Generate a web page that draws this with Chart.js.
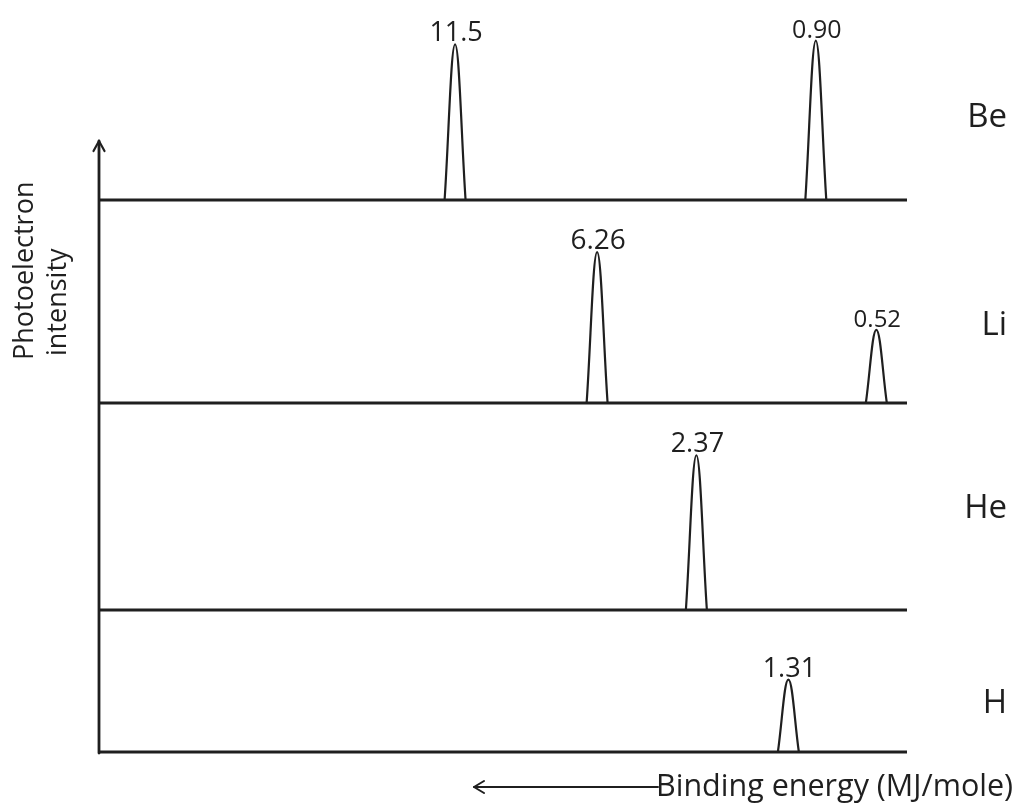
<!DOCTYPE html>
<html>
<head>
<meta charset="utf-8">
<script src="https://cdn.jsdelivr.net/npm/chart.js@4.4.1/dist/chart.umd.min.js"></script>
<style>
  html, body { margin: 0; padding: 0; background: #ffffff; }
  #wrap { width: 1016px; height: 807px; position: relative; }
</style>
</head>
<body>
<div id="wrap"><canvas id="c" width="1016" height="807"></canvas></div>
<script>
// ---------------- DATA ----------------
const elements = ['Be', 'Li', 'He', 'H'];
// binding energies (MJ/mole) shown above each peak
const peakLabels = [['11.5', '0.90'], ['6.26', '0.52'], ['2.37'], ['1.31']];
// peak position on the schematic binding-energy axis (0 = left end, 100 = right end)
const peakPositions = [[44.0, 88.7], [61.6, 96.2], [73.9], [85.3]];
// relative photoelectron intensity (peak height)
const peakIntensities = [[2.02, 2.07], [1.96, 0.95], [2.01], [0.94]];
const xTitle = 'Binding energy (MJ/mole)';
const yTitle = ['Photoelectron', 'intensity'];

// ---------------- LAYOUT / STYLE ----------------
const PX_PER_UNIT = 77;
const panelWeights = [200, 203, 207, 142];     // panel heights (stacked y axes), top to bottom
const peakHalfWidth = 1.3;                      // in x-axis units
const labelFontSizes = [[27, 25], [28, 24], [27], [27]];
const elementLabelY = [127, 335, 518, 713];
const INK = '#1f1f1f';
const FONT = '"Open Sans", "DejaVu Sans", sans-serif';

// ---------------- BUILD ----------------
// Chart.js stacks the axes bottom-up, so define them from the lowest panel (H) to the top (Be)
const scales = {
  x: { type: 'linear', min: 0, max: 100, display: false }
};
for (let i = elements.length - 1; i >= 0; i--) {
  scales['y' + i] = {
    type: 'linear', min: 0, max: panelWeights[i] / PX_PER_UNIT,
    stack: 'panels', stackWeight: panelWeights[i], display: false,
    position: 'left'
  };
}

const datasets = [];
elements.forEach((el, i) => {
  datasets.push({
    label: el + ' baseline',
    data: [{ x: 0, y: 0 }, { x: 100, y: 0 }],
    yAxisID: 'y' + i, xAxisID: 'x',
    borderColor: INK, borderWidth: 3, pointRadius: 0, tension: 0, fill: false, clip: false
  });
  peakPositions[i].forEach((p, j) => {
    datasets.push({
      label: el + ' ' + peakLabels[i][j],
      data: [
        { x: p - peakHalfWidth, y: 0 },
        { x: p, y: peakIntensities[i][j] },
        { x: p + peakHalfWidth, y: 0 }
      ],
      yAxisID: 'y' + i, xAxisID: 'x',
      borderColor: INK, borderWidth: 2.2, pointRadius: 0, tension: 0.4, fill: false, clip: false
    });
  });
});

const overlay = {
  id: 'overlay',
  afterDraw(chart) {
    const ctx = chart.ctx;
    const xs = chart.scales.x;
    const area = chart.chartArea;
    ctx.save();
    ctx.strokeStyle = INK;
    ctx.fillStyle = INK;
    ctx.lineCap = 'round';
    ctx.lineJoin = 'round';

    // vertical intensity axis with arrow
    const ax = xs.getPixelForValue(0) - 1;
    const topY = 141;
    ctx.lineWidth = 2.8;
    ctx.beginPath();
    ctx.moveTo(ax, area.bottom + 1);
    ctx.lineTo(ax, topY);
    ctx.stroke();
    ctx.lineWidth = 2.2;
    ctx.beginPath();
    ctx.moveTo(ax - 5.5, topY + 10);
    ctx.lineTo(ax, topY);
    ctx.lineTo(ax + 5.5, topY + 10);
    ctx.stroke();

    // peak value labels
    ctx.textAlign = 'center';
    ctx.textBaseline = 'alphabetic';
    elements.forEach((el, i) => {
      const ys = chart.scales['y' + i];
      peakPositions[i].forEach((p, j) => {
        ctx.font = labelFontSizes[i][j] + 'px ' + FONT;
        ctx.fillText(peakLabels[i][j], xs.getPixelForValue(p) + 1,
          ys.getPixelForValue(peakIntensities[i][j]) - 3);
      });
    });

    // element labels
    ctx.textAlign = 'right';
    ctx.font = '33px ' + FONT;
    elements.forEach((el, i) => {
      ctx.fillText(el, 1007, elementLabelY[i]);
    });

    // y title (rotated, two lines)
    ctx.save();
    ctx.rotate(-Math.PI / 2);
    ctx.textAlign = 'left';
    ctx.font = '27px ' + FONT;
    ctx.fillText(yTitle[0], -360, 33);
    ctx.fillText(yTitle[1], -356, 66);
    ctx.restore();

    // x title with left arrow
    ctx.textAlign = 'left';
    ctx.font = '30.5px ' + FONT;
    const tx = 656;
    ctx.fillText(xTitle, tx, 796);
    ctx.lineWidth = 2;
    ctx.beginPath();
    ctx.moveTo(tx + 2, 787);
    ctx.lineTo(474, 787);
    ctx.stroke();
    ctx.beginPath();
    ctx.moveTo(484, 781);
    ctx.lineTo(474, 787);
    ctx.lineTo(484, 793);
    ctx.stroke();

    ctx.restore();
  }
};

function build() {
  new Chart(document.getElementById('c'), {
    type: 'line',
    data: { datasets },
    options: {
      responsive: false,
      animation: false,
      devicePixelRatio: 1,
      layout: { padding: { left: 100, right: 109, top: 0, bottom: 55 } },
      plugins: { legend: { display: false }, tooltip: { enabled: false }, title: { display: false } },
      scales
    },
    plugins: [overlay]
  });
}
if (document.fonts && document.fonts.load) {
  Promise.all([document.fonts.load('27px "Open Sans"')]).then(build, build);
} else { build(); }
</script>
</body>
</html>
